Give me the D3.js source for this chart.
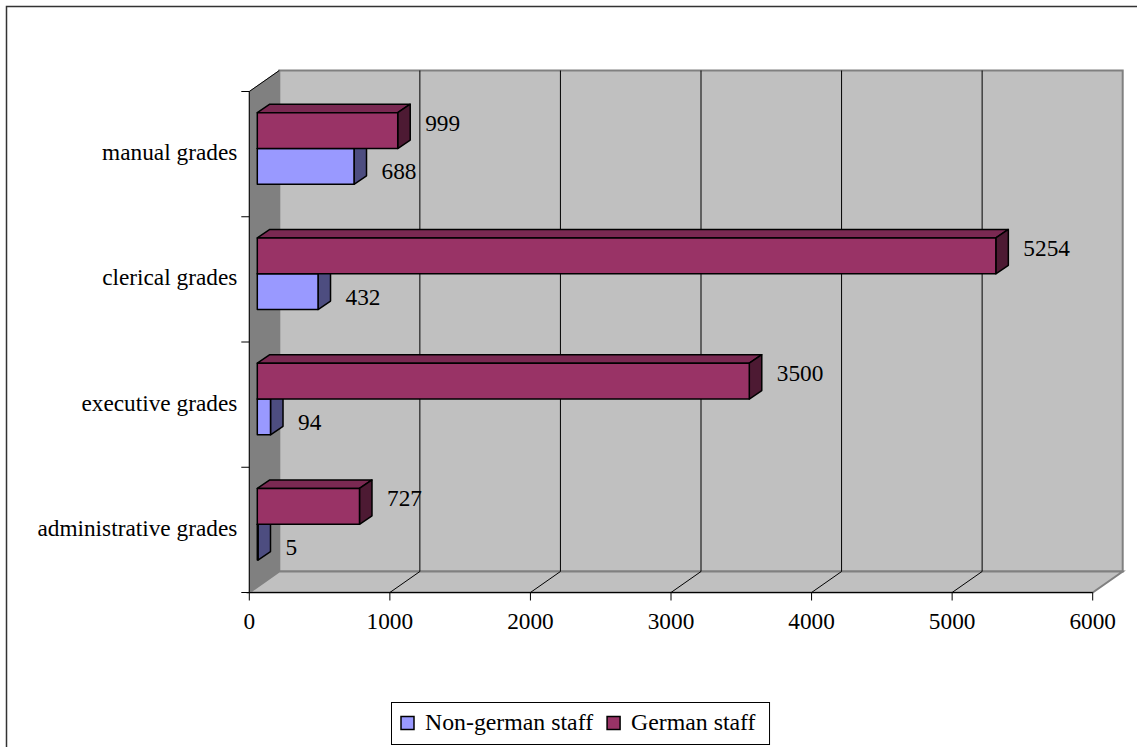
<!DOCTYPE html>
<html>
<head>
<meta charset="utf-8">
<script src="https://cdn.jsdelivr.net/npm/d3@7"></script>
<style>
  body { margin: 0; background: #fff; }
</style>
</head>
<body>
<svg id="chart" width="1137" height="747"></svg>
<script>
"use strict";

// Chart data, bottom category first (as Excel lists it)
var categories = ["administrative grades", "executive grades", "clerical grades", "manual grades"];
var nonGerman = [5, 94, 432, 688];
var german = [727, 3500, 5254, 999];
var seriesNames = ["Non-german staff", "German staff"];
var valueTicks = [0, 1000, 2000, 3000, 4000, 5000, 6000];

var colors = {
    nonGerman: { front: "#9999ff", top: "#7a7acc", side: "#4d4d80" },
    german:    { front: "#993366", top: "#7a2952", side: "#4d1a33" }
};

var FONT = "'Liberation Serif', serif";

var svg = d3.select("#chart");

// every label uses the same serif face
function label(sel) {
    return sel.attr("font-family", FONT).attr("font-size", 23.3).attr("fill", "#000");
}

// Front plane of the 3D box and its depth offset
var frame = { left: 249.3, right: 1092.7, top: 91.5, bottom: 592.5 };
var depth = { dx: 30, dy: -21 };
// bars sit inside the box depth
var barFront = { dx: 8, dy: -5.6 };
var barDepth = { dx: 12.5, dy: -8.5 };

var x = d3.scaleLinear().domain([0, 6000]).range([frame.left, frame.right]);
var y = d3.scaleBand()
    .domain(categories.slice().reverse())
    .range([frame.top, frame.bottom]);
var ySeries = d3.scaleBand()
    .domain(["german", "nonGerman"])
    .range([0, y.bandwidth()])
    .paddingInner(0).paddingOuter(0.75);

function pts(arr) { return arr.map(function(p){ return p[0] + "," + p[1]; }).join(" "); }

// Outer chart border (only top and left show in the window)
svg.append("rect")
    .attr("x", 6.5).attr("y", 6.5).attr("width", 1200).attr("height", 800)
    .attr("fill", "none").attr("stroke", "#333").attr("stroke-width", 1.5);

// Back wall
svg.append("rect")
    .attr("x", frame.left + depth.dx).attr("y", frame.top + depth.dy)
    .attr("width", frame.right - frame.left).attr("height", frame.bottom - frame.top)
    .attr("fill", "#c0c0c0").attr("stroke", "#808080").attr("stroke-width", 2);

// Side wall (left)
svg.append("polygon")
    .attr("points", pts([
        [frame.left, frame.top], [frame.left + depth.dx, frame.top + depth.dy],
        [frame.left + depth.dx, frame.bottom + depth.dy], [frame.left, frame.bottom]
    ]))
    .attr("fill", "#808080").attr("stroke", "#808080").attr("stroke-width", 1);
svg.append("line")
    .attr("x1", frame.left).attr("y1", frame.top)
    .attr("x2", frame.left + depth.dx).attr("y2", frame.top + depth.dy)
    .attr("stroke", "#000").attr("stroke-width", 1);

// Floor
svg.append("polygon")
    .attr("points", pts([
        [frame.left, frame.bottom], [frame.left + depth.dx, frame.bottom + depth.dy],
        [frame.right + depth.dx, frame.bottom + depth.dy], [frame.right, frame.bottom]
    ]))
    .attr("fill", "#c0c0c0").attr("stroke", "#808080").attr("stroke-width", 2);

// Gridlines: back wall verticals plus floor diagonals
var inner = valueTicks.filter(function(t){ return t > 0 && t < 6000; });
var grid = svg.append("g").attr("stroke", "#000").attr("stroke-width", 1).attr("fill", "none");
grid.selectAll("polyline").data(inner).enter().append("polyline")
    .attr("points", function(t){
        return pts([
            [x(t), frame.bottom],
            [x(t) + depth.dx, frame.bottom + depth.dy],
            [x(t) + depth.dx, frame.top + depth.dy]
        ]);
    });

// Axes
var axes = svg.append("g").attr("stroke", "#000").attr("stroke-width", 1);
axes.append("line")
    .attr("x1", frame.left).attr("y1", frame.top).attr("x2", frame.left).attr("y2", frame.bottom);
axes.append("line")
    .attr("x1", frame.left).attr("y1", frame.bottom).attr("x2", frame.right).attr("y2", frame.bottom);
var catEdges = y.domain().map(function(c){ return y(c); }).concat([frame.bottom]);
axes.selectAll(".ctick").data(catEdges).enter().append("line")
    .attr("x1", frame.left - 8).attr("x2", frame.left)
    .attr("y1", function(d){ return d; }).attr("y2", function(d){ return d; });
axes.selectAll(".vtick").data(valueTicks).enter().append("line")
    .attr("x1", function(t){ return x(t); }).attr("x2", function(t){ return x(t); })
    .attr("y1", frame.bottom).attr("y2", frame.bottom + 8);

svg.append("g").selectAll("text").data(valueTicks).enter().append("text")
    .call(label)
    .attr("x", function(t){ return x(t); })
    .attr("y", frame.bottom + 36)
    .attr("text-anchor", "middle")
    .text(function(t){ return t; });

svg.append("g").selectAll("text").data(categories).enter().append("text")
    .call(label)
    .attr("x", frame.left - 12)
    .attr("y", function(c){ return y(c) + y.bandwidth() / 2 + 6; })
    .attr("text-anchor", "end")
    .text(function(c){ return c; });

// Bars (lower series first so the upper bar covers its top face)
var rows = categories.map(function(c, i){
    return { cat: c, nonGerman: nonGerman[i], german: german[i] };
});

function drawBar(g, key, row) {
    var v = row[key];
    var c = colors[key];
    var x0 = x(0) + barFront.dx, x1 = x(v) + barFront.dx;
    var y0 = y(row.cat) + ySeries(key) + barFront.dy;
    var y1 = y0 + ySeries.bandwidth();
    var bx = barDepth.dx, by = barDepth.dy;
    var bar = g.append("g").attr("stroke", "#000").attr("stroke-width", 1.5).attr("stroke-linejoin", "round");
    bar.append("polygon").attr("fill", c.top)
        .attr("points", pts([[x0, y0], [x0 + bx, y0 + by], [x1 + bx, y0 + by], [x1, y0]]));
    bar.append("polygon").attr("fill", c.side)
        .attr("points", pts([[x1, y0], [x1 + bx, y0 + by], [x1 + bx, y1 + by], [x1, y1]]));
    bar.append("rect").attr("fill", c.front)
        .attr("x", x0).attr("y", y0).attr("width", x1 - x0).attr("height", y1 - y0);

    var shift = key === "german" ? -8 : 5;
    g.append("text")
        .call(label)
        .attr("x", x1 + bx + 15)
        .attr("y", (y0 + y1) / 2 + shift + 8)
        .text(v);
}

var bars = svg.append("g");
rows.forEach(function(row){
    var g = bars.append("g");
    drawBar(g, "nonGerman", row);
    drawBar(g, "german", row);
});

// Legend
var legend = svg.append("g");
var legendBox = legend.append("rect")
    .attr("fill", "#fff").attr("stroke", "#000").attr("stroke-width", 1);
var items = [
    { name: seriesNames[0], color: colors.nonGerman.front },
    { name: seriesNames[1], color: colors.german.front }
];
var lx = 401, ly = 716.5;
items.forEach(function(it){
    legend.append("rect")
        .attr("x", lx).attr("y", ly).attr("width", 13).attr("height", 13)
        .attr("fill", it.color).attr("stroke", "#000").attr("stroke-width", 1.5);
    var t = legend.append("text")
        .call(label)
        .attr("font-size", 23.8)
        .attr("x", lx + 24).attr("y", ly + 13)
        .text(it.name);
    lx += 24 + t.node().getComputedTextLength() + 14;
});
legendBox.attr("x", 391.5).attr("y", 702.5)
    .attr("width", lx - 391.5).attr("height", 42);
</script>
</body>
</html>
